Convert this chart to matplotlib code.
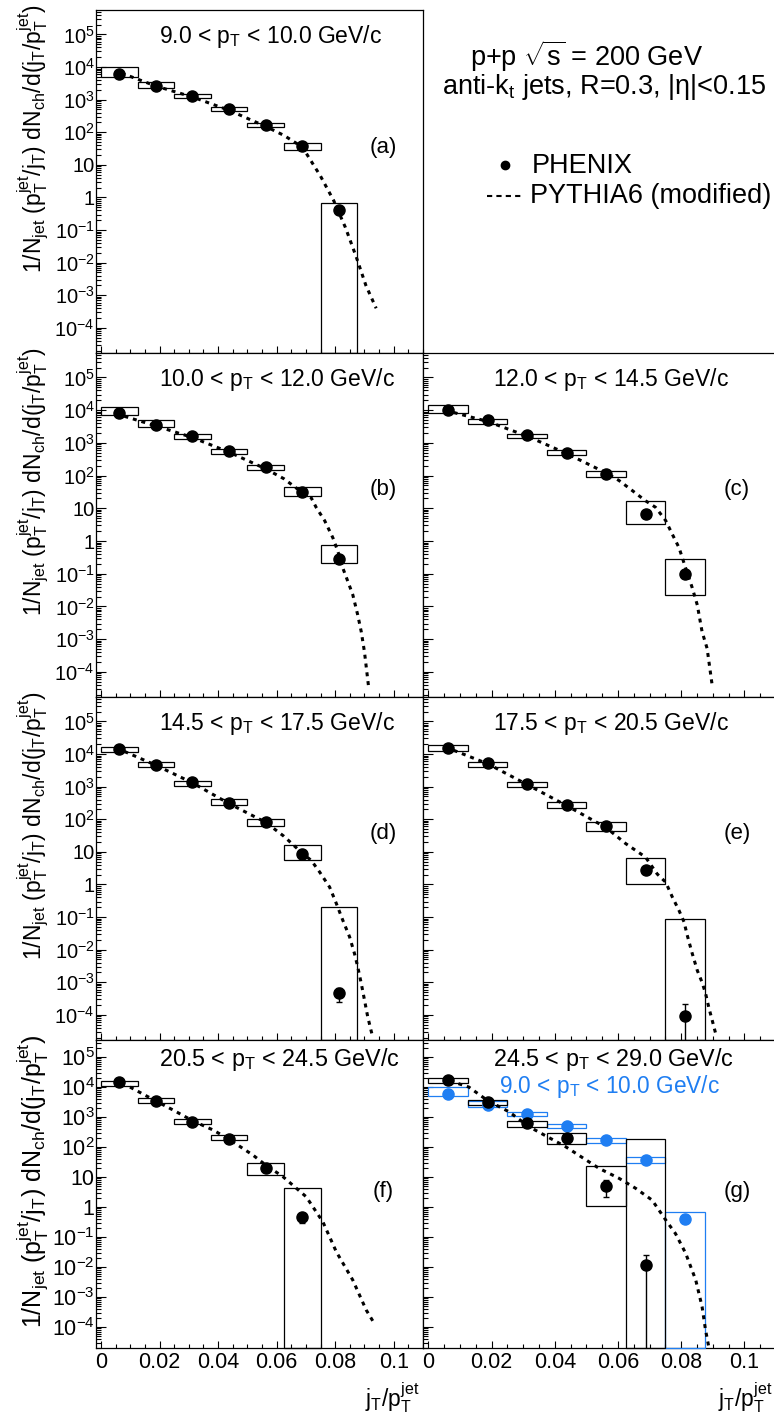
import numpy as np
import matplotlib
matplotlib.use("Agg")
import matplotlib.pyplot as plt
from matplotlib.patches import Rectangle
from matplotlib.lines import Line2D
from matplotlib.ticker import FixedLocator, FixedFormatter, FuncFormatter, MultipleLocator

plt.rcParams['font.family'] = ['Liberation Sans', 'DejaVu Sans']
plt.rcParams['mathtext.fontset'] = 'custom'
plt.rcParams['mathtext.rm'] = 'Liberation Sans'
plt.rcParams['mathtext.it'] = 'Liberation Sans'
plt.rcParams['mathtext.default'] = 'regular'

# ---- data ----
bin_edges = [0.0, 0.0125, 0.025, 0.0375, 0.05, 0.0625, 0.075, 0.0875]

titles = {
    'a': '9.0 < $p_T$ < 10.0 GeV/c',
    'b': '10.0 < $p_T$ < 12.0 GeV/c',
    'c': '12.0 < $p_T$ < 14.5 GeV/c',
    'd': '14.5 < $p_T$ < 17.5 GeV/c',
    'e': '17.5 < $p_T$ < 20.5 GeV/c',
    'f': '20.5 < $p_T$ < 24.5 GeV/c',
    'g': '24.5 < $p_T$ < 29.0 GeV/c',
}

# PHENIX points: value, systematic box low/high, stat error low/high
a_val = [6000, 2600, 1300, 520, 170, 37, 0.41]
a_sys_lo = [5000, 2240, 1120, 447, 141, 29, 1e-9]
a_sys_hi = [10000, 3550, 1510, 600, 195, 48, 0.68]
a_err_lo = [5700, 2480, 1240, 495, 161, 34, 0.36]
a_err_hi = [6300, 2720, 1360, 545, 179, 40, 0.46]

b_val = [8000, 3600, 1600, 560, 182, 31, 0.29]
b_sys_lo = [7100, 3100, 1350, 470, 150, 23, 0.22]
b_sys_hi = [12900, 4900, 1900, 660, 205, 44, 0.74]
b_err_lo = [7600, 3430, 1520, 530, 172, 28, 0.25]
b_err_hi = [8400, 3780, 1680, 590, 192, 34, 0.33]

c_val = [10000, 4900, 1700, 500, 112, 6.6, 0.1]
c_sys_lo = [8300, 3900, 1400, 440, 93, 3.2, 0.022]
c_sys_hi = [14800, 5200, 1900, 590, 141, 17, 0.29]
c_err_lo = [9500, 4650, 1610, 475, 105, 5.8, 0.08]
c_err_hi = [10500, 5150, 1790, 525, 119, 7.4, 0.12]

d_val = [14000, 4700, 1350, 310, 81, 8.7, 4.6e-4]
d_sys_lo = [11200, 3900, 1070, 275, 63, 5.5, 1e-9]
d_sys_hi = [16600, 5500, 1510, 410, 105, 15.8, 0.21]
d_err_lo = [13300, 4470, 1280, 294, 76, 7.8, 2.5e-4]
d_err_hi = [14700, 4930, 1420, 326, 86, 9.6, 6.5e-4]

e_val = [15000, 5300, 1200, 275, 60, 2.8, 9.3e-5]
e_sys_lo = [12600, 4100, 1000, 224, 43, 1.0, 1e-9]
e_sys_hi = [19000, 5500, 1410, 330, 81, 6.6, 0.085]
e_err_lo = [14250, 5030, 1140, 261, 56, 2.4, 1e-9]
e_err_hi = [15750, 5570, 1260, 289, 64, 3.2, 2.2e-4]

f_val = [15000, 3500, 660, 185, 19.5, 0.48]
f_sys_lo = [10800, 3000, 590, 170, 11.7, 1e-9]
f_sys_hi = [16200, 4200, 850, 250, 30, 4.4]
f_err_lo = [14250, 3330, 627, 175, 17.5, 0.29]
f_err_hi = [15750, 3670, 693, 195, 21.5, 0.62]

g_val = [17000, 3240, 610, 195, 5.0, 0.0117]
g_sys_lo = [13800, 2510, 457, 126, 1.08, 1e-9]
g_sys_hi = [19500, 3720, 740, 300, 23, 180]
g_err_lo = [16150, 3080, 580, 185, 2.1, 1e-9]
g_err_hi = [17850, 3400, 640, 205, 7.9, 0.025]

# PYTHIA6 (modified) curves
a_cx = [0.007, 0.0188, 0.0313, 0.0438, 0.0563, 0.0625, 0.0688, 0.075, 0.0795, 0.0835, 0.0872, 0.0905, 0.094]
a_cy = [6500, 2600, 1200, 470, 150, 80, 35, 4.5, 0.8, 0.12, 0.015, 0.002, 4e-4]
b_cx = [0.008, 0.0188, 0.0313, 0.0438, 0.0563, 0.0625, 0.0688, 0.0718, 0.0735, 0.0764, 0.0792,
        0.0809, 0.0826, 0.0843, 0.086, 0.0877, 0.0889, 0.09, 0.0915]
b_cy = [6500, 3300, 1450, 520, 160, 80, 30, 21, 10.7, 4.2, 1.26, 0.49, 0.15, 0.059, 0.023,
        5.5e-3, 1.7e-3, 4.1e-4, 3e-5]
c_cx = [0.008, 0.0188, 0.0313, 0.0438, 0.0563, 0.0603, 0.0645, 0.0687, 0.0719, 0.0751, 0.0772,
        0.0793, 0.0814, 0.0835, 0.0851, 0.0866, 0.0882, 0.0898]
c_cy = [8500, 4500, 1600, 470, 120, 71, 35, 17, 10.7, 4.2, 1.6, 0.63, 0.15, 0.037, 0.011,
        1.7e-3, 5.2e-4, 3.9e-5]
d_cx = [0.008, 0.0188, 0.0313, 0.0438, 0.0563, 0.0625, 0.0688, 0.0718, 0.0747, 0.0781, 0.0804,
        0.0826, 0.0849, 0.0866, 0.0877, 0.0889, 0.09, 0.0911, 0.0928]
d_cy = [12000, 4500, 1300, 300, 80, 30, 9, 5.5, 2.4, 0.83, 0.26, 0.08, 0.025, 7.6e-3, 3e-3,
        9.3e-4, 2.9e-4, 8.9e-5, 2.1e-5]
e_cx = [0.008, 0.0188, 0.0313, 0.0438, 0.0563, 0.0624, 0.0687, 0.0724, 0.0751, 0.0772, 0.0793,
        0.0809, 0.0819, 0.0835, 0.0851, 0.0866, 0.0877, 0.0888, 0.0898, 0.0909]
e_cy = [13000, 5000, 1150, 260, 55, 18, 6.9, 2.1, 1.17, 0.41, 0.16, 0.071, 0.028, 7.6e-3,
        2.3e-3, 1e-3, 4.6e-4, 1.6e-4, 6.9e-5, 2.7e-5]
f_cx = [0.0099, 0.0188, 0.0247, 0.0313, 0.0383, 0.0438, 0.0519, 0.0563, 0.0622, 0.0701, 0.0758,
        0.0804, 0.086, 0.0906, 0.0934]
f_cy = [10000, 3400, 1700, 750, 370, 180, 54, 25, 10.2, 2.2, 0.32, 0.032, 3.7e-3, 3.7e-4, 1.3e-4]
g_cx = [0.0095, 0.0128, 0.0188, 0.0255, 0.0318, 0.0434, 0.054, 0.0603, 0.0656, 0.0708, 0.0751,
        0.0782, 0.0814, 0.0846, 0.0866, 0.0877, 0.0888]
g_cy = [13000, 10000, 3500, 1500, 480, 103, 19.5, 9.1, 4.2, 1.7, 0.37, 0.13, 0.029, 3.7e-3,
        4.8e-4, 8e-5, 2e-5]

x_ticks = [0, 0.02, 0.04, 0.06, 0.08, 0.1]
x_tick_labels = ['0', '0.02', '0.04', '0.06', '0.08', '0.1']
y_ticks = [1e-4, 1e-3, 1e-2, 1e-1, 1, 10, 1e2, 1e3, 1e4, 1e5]

BLUE = '#1f7ef2'
W, H = 774, 1418
XLIM = (-0.0017, 0.11)
YLIM_TOP = (1.7e-5, 5.6e5)
YLIM_BOT = (2.0e-5, 3.7e5)

fig = plt.figure(figsize=(W / 100, H / 100), dpi=100)


def add_ax(x0, x1, y0, y1):
    return fig.add_axes([x0 / W, 1 - y1 / H, (x1 - x0) / W, (y1 - y0) / H])


def yfmt(v, pos):
    e = int(round(np.log10(v)))
    if e == 0:
        return '1'
    if e == 1:
        return '10'
    return r'$10^{%d}$' % e


def style_axes(ax, ylim, left_labels, bottom_labels, fs):
    ax.set_yscale('log')
    ax.set_xlim(*XLIM)
    ax.set_ylim(*ylim)
    ax.yaxis.set_major_locator(FixedLocator(y_ticks))
    minors = [m * 10.0 ** k for k in range(-5, 6) for m in range(2, 10)]
    ax.yaxis.set_minor_locator(FixedLocator(minors))
    ax.yaxis.set_major_formatter(FuncFormatter(yfmt))
    ax.yaxis.set_minor_formatter(FuncFormatter(lambda v, p: ''))
    ax.xaxis.set_major_locator(FixedLocator(x_ticks))
    ax.xaxis.set_major_formatter(FixedFormatter(x_tick_labels))
    ax.xaxis.set_minor_locator(MultipleLocator(0.005))
    ax.tick_params(which='both', direction='in', top=False, right=False, width=0.8,
                   labelleft=left_labels, labelbottom=bottom_labels, labelsize=fs)
    ax.tick_params(axis='y', which='major', length=7.5, pad=1)
    ax.tick_params(axis='y', which='minor', length=3.8)
    ax.tick_params(axis='x', which='major', length=5.2, pad=3)
    ax.tick_params(axis='x', which='minor', length=2.8)
    for s in ax.spines.values():
        s.set_linewidth(0.9)


def draw_data(ax, val, slo, shi, elo, ehi, color, ymin):
    n = len(val)
    xc = [(bin_edges[i] + bin_edges[i + 1]) / 2 for i in range(n)]
    for i in range(n):
        lo = max(slo[i], ymin)
        ax.add_patch(Rectangle((bin_edges[i], lo), bin_edges[i + 1] - bin_edges[i], shi[i] - lo,
                               fill=False, edgecolor=color, linewidth=0.9, zorder=3, clip_on=False))
    yerr = [np.array(val) - np.array(elo), np.array(ehi) - np.array(val)]
    ax.errorbar(xc, val, yerr=yerr, fmt='o', ms=8, color=color, ecolor=color,
                elinewidth=1.0, capsize=2.5, capthick=1.0, zorder=5)


def draw_curve(ax, cx, cy):
    ax.plot(cx, cy, color='k', lw=2.2, dashes=(1.3, 1.6), zorder=4)


rows = [(10, 353), (353, 697), (697, 1040), (1040, 1348)]
LX = (96, 423)
RX = (423, 776)

panels = [
    ('a', LX, 0, a_val, a_sys_lo, a_sys_hi, a_err_lo, a_err_hi, a_cx, a_cy),
    ('b', LX, 1, b_val, b_sys_lo, b_sys_hi, b_err_lo, b_err_hi, b_cx, b_cy),
    ('c', RX, 1, c_val, c_sys_lo, c_sys_hi, c_err_lo, c_err_hi, c_cx, c_cy),
    ('d', LX, 2, d_val, d_sys_lo, d_sys_hi, d_err_lo, d_err_hi, d_cx, d_cy),
    ('e', RX, 2, e_val, e_sys_lo, e_sys_hi, e_err_lo, e_err_hi, e_cx, e_cy),
    ('f', LX, 3, f_val, f_sys_lo, f_sys_hi, f_err_lo, f_err_hi, f_cx, f_cy),
    ('g', RX, 3, g_val, g_sys_lo, g_sys_hi, g_err_lo, g_err_hi, g_cx, g_cy),
]

ylab = r'1/N$_{jet}$ (p$_T^{jet}$/j$_T$) dN$_{ch}$/d(j$_T$/p$_T^{jet}$)'

for key, xr, r, val, slo, shi, elo, ehi, cx, cy in panels:
    y0, y1 = rows[r]
    ax = add_ax(xr[0], xr[1], y0, y1)
    bottom = (r == 3)
    ylim = YLIM_BOT if bottom else YLIM_TOP
    fs = 15.5 if bottom else 14.5
    style_axes(ax, ylim, xr == LX, bottom, fs)
    hpx = y1 - y0
    wpx = xr[1] - xr[0]

    if key == 'g':
        draw_data(ax, a_val, a_sys_lo, a_sys_hi, a_err_lo, a_err_hi, BLUE, ylim[0])
    draw_data(ax, val, slo, shi, elo, ehi, 'k', ylim[0])
    draw_curve(ax, cx, cy)

    # bin title
    tx = (63 if xr == LX else 70) / wpx
    toff = 26 if bottom else 33
    ax.text(tx, 1 - toff / hpx, titles[key], transform=ax.transAxes, fontsize=16.8 if bottom else 16.5,
            ha='left', va='baseline')
    if key == 'g':
        ax.text(76 / wpx, 1 - 53 / hpx, titles['a'], transform=ax.transAxes, fontsize=16.3,
                ha='left', va='baseline', color=BLUE)
    # panel letter
    lx = (287 if xr == LX else 314) / wpx
    loff = 151 if bottom else 137
    ax.text(lx, 1 - loff / hpx, '(%s)' % key, transform=ax.transAxes, fontsize=16,
            ha='center', va='center')

    if xr == LX:
        fig.text(33 / W, 1 - (y0 - 5) / H, ylab, rotation=90, ha='center', va='top',
                 fontsize=18 if bottom else 16.5)
    if bottom:
        fig.text((xr[1] - 4) / W, 1 - 1398 / H, r'j$_T$/p$_T^{jet}$', ha='right', va='center',
                 fontsize=16.5)

# header and legend in the empty top-right pad
fig.text(470 / W, 1 - 66 / H, r'p+p $\sqrt{s}$ = 200 GeV', ha='left', va='baseline', fontsize=19.5)
fig.text(442 / W, 1 - 94 / H, r'anti-k$_t$ jets, R=0.3, |$\eta$|<0.15', ha='left', va='baseline',
         fontsize=19.5)
fig.add_artist(Line2D([505 / W], [1 - 165 / H], marker='o', ms=6, color='k', transform=fig.transFigure))
fig.text(532 / W, 1 - 166 / H, 'PHENIX', ha='left', va='center', fontsize=19.5)
fig.add_artist(Line2D([487 / W, 521 / W], [1 - 196 / H, 1 - 196 / H], color='k', lw=1.5,
                      dashes=(2.5, 2.0), transform=fig.transFigure))
fig.text(530 / W, 1 - 196 / H, 'PYTHIA6 (modified)', ha='left', va='center', fontsize=19.5)

fig.savefig('out.png', dpi=100)
